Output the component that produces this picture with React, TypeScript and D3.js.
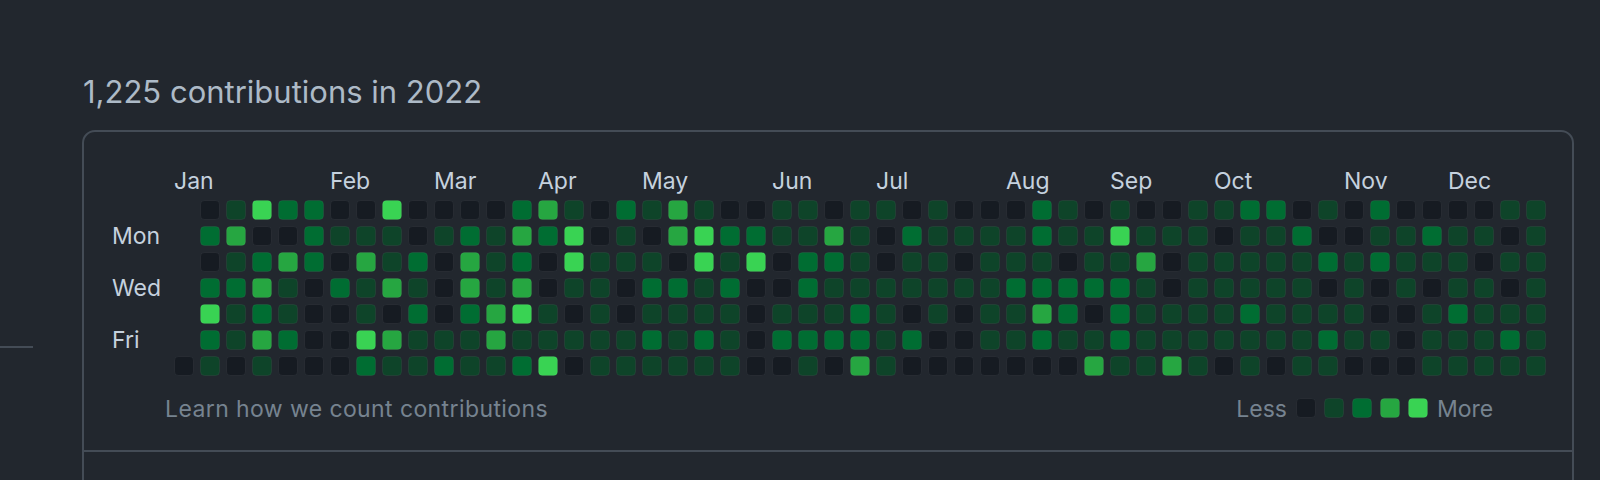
import * as React from "react";
import * as d3 from "d3";

// contribution level per week (Sun..Sat), "." = outside 2022
const weekLevels = [
  "......0", "0202421", "1312110", "4023231", "2031120", "2220000", "0102000",
  "0131142", "4113031", "0021211", "0100012", "0233211", "0111331", "2323412",
  "3200114", "1441010", "0011111", "2110011", "1012121", "3302111", "1441121",
  "0212111", "0240000", "1100120", "1122121", "0321120", "1111223", "1001111",
  "0211020", "1111100", "0101000", "0111110", "0112110", "2212320", "1102210",
  "0112013", "1412221", "0131111", "0100113", "1111111", "1011110", "2111211",
  "2111110", "0211111", "1020121", "0011110", "2120010", "0111000", "0210111",
  "0111211", "0101111", "1010121", "1111111",
];

const months = ["Jan", "Feb", "Mar", "Apr", "May", "Jun", "Jul", "Aug", "Sep", "Oct", "Nov", "Dec"];
const monthWeeks = [0, 6, 10, 14, 18, 23, 27, 32, 36, 40, 45, 49];
const dayLabels = [{ day: 1, label: "Mon" }, { day: 3, label: "Wed" }, { day: 5, label: "Fri" }];
const levelColors = ["#161b22", "#0e4429", "#006d32", "#26a641", "#39d353"];
const legendLevels = [0, 1, 2, 3, 4];

const W = 1600;
const H = 480;
const font = "Inter, 'Noto Sans', sans-serif";

export default function App() {
  const x = d3.scaleLinear().domain([0, 1]).range([174, 200]);
  const y = d3.scaleLinear().domain([0, 1]).range([200, 226]);
  const color = d3.scaleOrdinal<number, string>().domain(legendLevels).range(levelColors);

  const cells: { w: number; d: number; level: number }[] = [];
  weekLevels.forEach((s, w) => {
    s.split("").forEach((c, d) => {
      if (c !== ".") cells.push({ w, d, level: +c });
    });
  });

  const legendX = d3.scaleLinear().domain([0, 1]).range([1296, 1324]);

  return (
    <svg width={W} height={H} style={{ position: "absolute", left: 0, top: 0, display: "block" }}>
      <rect width={W} height={H} fill="#22272e" />
      <line x1={0} x2={33} y1={347} y2={347} stroke="#444c56" strokeWidth={2} />
      <text x={83} y={103} fill="#adbac7" fontFamily={font} fontSize={31}>
        1,225 contributions in 2022
      </text>
      <rect x={83} y={131} width={1490} height={420} rx={12} fill="none" stroke="#444c56" strokeWidth={2} />
      <line x1={83} x2={1573} y1={451} y2={451} stroke="#444c56" strokeWidth={2} />
      {months.map((m, i) => (
        <text key={m} x={x(monthWeeks[i])} y={189} fill="#c5d1de" fontFamily={font} fontSize={23}>
          {m}
        </text>
      ))}
      {dayLabels.map((d) => (
        <text key={d.label} x={112} y={y(d.day) + 18} fill="#c5d1de" fontFamily={font} fontSize={23}>
          {d.label}
        </text>
      ))}
      {cells.map((c) => (
        <rect
          key={c.w + "-" + c.d}
          x={x(c.w) + 0.5}
          y={y(c.d) + 0.5}
          width={19}
          height={19}
          rx={4}
          fill={color(c.level)}
          stroke="rgba(255,255,255,0.05)"
          strokeWidth={1}
        />
      ))}
      <text x={165} y={417} fill="#768390" fontFamily={font} fontSize={23} letterSpacing={0.4}>
        Learn how we count contributions
      </text>
      <text x={1287} y={417} fill="#768390" fontFamily={font} fontSize={23} textAnchor="end">
        Less
      </text>
      {legendLevels.map((l) => (
        <rect
          key={l}
          x={legendX(l) + 0.5}
          y={398.5}
          width={19}
          height={19}
          rx={4}
          fill={color(l)}
          stroke="rgba(255,255,255,0.05)"
        />
      ))}
      <text x={1437} y={417} fill="#768390" fontFamily={font} fontSize={23}>
        More
      </text>
    </svg>
  );
}
